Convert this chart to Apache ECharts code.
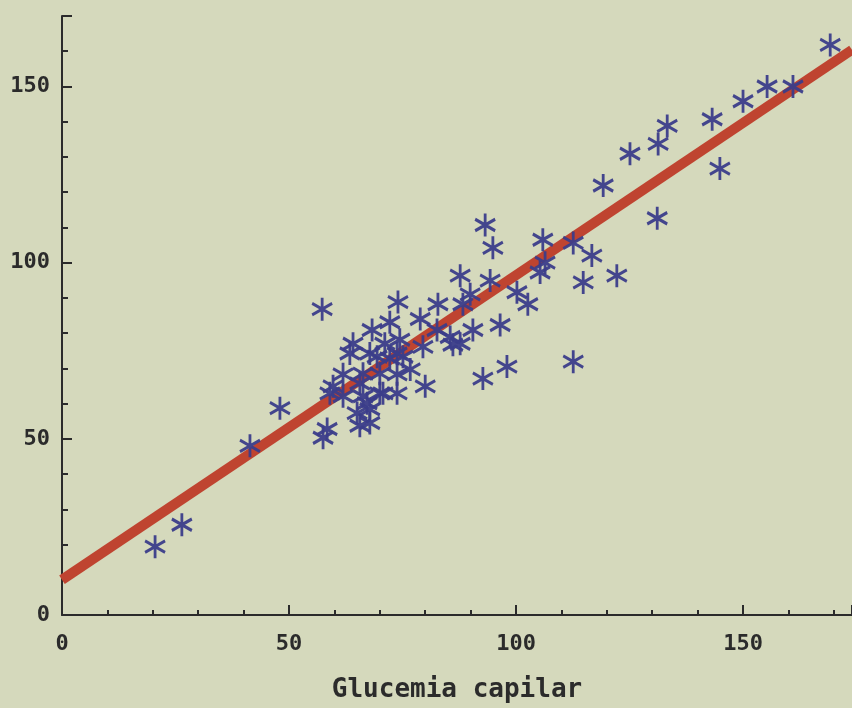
<!DOCTYPE html>
<html lang="es">
<head>
  <meta charset="UTF-8">
  <title>Glucemia capilar</title>
  <script src="https://cdn.jsdelivr.net/npm/echarts@6/dist/echarts.min.js"></script>
  <style>
    html, body { margin: 0; padding: 0; background: #d5d9bc; }
    #chart { width: 852px; height: 708px; }
  </style>
</head>
<body>
  <div id="chart"></div>
  <script>
    // glucemia capilar (x) frente a glucemia venosa (y)
    var capilar = [20.5, 26.4, 41.4, 48.0, 57.3, 57.5, 58.4, 59.0, 59.7, 61.9,
      61.9, 64.1, 65.0, 65.6, 65.6, 67.2, 67.8, 68.3, 70.0, 70.0,
      72.2, 72.2, 73.8, 74.0, 74.4, 76.7, 78.9, 79.5, 80.0, 82.6,
      82.8, 86.1, 87.7, 87.7, 89.9, 90.5, 92.7, 93.2, 94.3, 94.9,
      96.5, 98.0, 100.2, 102.6, 105.3, 105.9, 112.6, 112.6, 114.8, 116.7,
      122.2, 119.2, 125.1, 131.3, 133.3, 131.1, 143.2, 144.9, 150.0, 155.3,
      161.0, 169.2, 63.4, 69.4, 73.8, 85.5, 106.4, 66.3, 67.8, 70.7,
      71.1, 75.1, 66.3, 73.8, 67.8, 88.3]
    var venosa = [19.4, 25.6, 48.0, 58.7, 86.8, 50.3, 52.8, 62.9, 64.9, 68.3,
      62.1, 77.0, 57.3, 53.7, 65.7, 60.1, 74.2, 80.9, 62.9, 68.5,
      83.1, 72.8, 62.9, 88.8, 78.1, 69.7, 84.0, 76.1, 64.9, 80.9,
      88.2, 76.7, 77.0, 96.3, 91.0, 80.9, 67.1, 110.7, 94.9, 104.2,
      82.3, 70.5, 91.6, 88.2, 97.2, 106.5, 105.6, 71.9, 94.4, 102.0,
      96.3, 121.9, 130.9, 133.7, 138.8, 112.6, 140.7, 126.7, 145.8, 150.0,
      150.0, 161.8, 74.2, 73.3, 74.2, 78.9, 100.0, 62.1, 58.4, 62.9,
      77.0, 73.3, 68.5, 68.3, 54.5, 88.2]
    // recta de regresion (extremos)
    var rectaX = [0, 174]
    var rectaY = [10, 160.4]

    var puntos = capilar.map(function (v, i) { return [v, venosa[i]] })
    var recta = rectaX.map(function (v, i) { return [v, rectaY[i]] })

    var asterisco = 'path://M10,0 L10,20 M1.34,5 L18.66,15 M1.34,15 L18.66,5'
    var fuente = 'DejaVu Sans Mono'
    var gris = '#2b2b2b'

    function etiqueta(v) { return v % 50 === 0 ? String(v) : '' }

    var chart = echarts.init(document.getElementById('chart'))
    chart.setOption({
      backgroundColor: '#d5d9bc',
      animation: false,
      grid: { left: 62, right: 0, top: 16, bottom: 87 },
      xAxis: [
        {
          type: 'value', min: 0, max: 174, interval: 10,
          name: 'Glucemia capilar', nameLocation: 'middle', nameGap: 62,
          nameTextStyle: { fontFamily: fuente, fontSize: 26, fontWeight: 'bold', color: gris },
          splitLine: { show: false },
          axisLine: { lineStyle: { color: gris, width: 2 } },
          axisTick: { inside: true, length: 5, lineStyle: { color: gris, width: 2 } },
          axisLabel: { formatter: etiqueta, margin: 18, showMaxLabel: false,
            fontFamily: fuente, fontSize: 22, fontWeight: 'bold', color: gris }
        },
        {
          type: 'value', min: 0, max: 174, interval: 50, position: 'bottom',
          splitLine: { show: false },
          axisLine: { show: false },
          axisTick: { inside: true, length: 10, lineStyle: { color: gris, width: 2 } },
          axisLabel: { show: false }
        }
      ],
      yAxis: [
        {
          type: 'value', min: 0, max: 170, interval: 10,
          splitLine: { show: false },
          axisLine: { show: true, lineStyle: { color: gris, width: 2 } },
          axisTick: { show: true, inside: true, length: 6, lineStyle: { color: gris, width: 2 } },
          axisLabel: { formatter: etiqueta, margin: 12,
            fontFamily: fuente, fontSize: 22, fontWeight: 'bold', color: gris }
        },
        {
          type: 'value', min: 0, max: 170, interval: 50, position: 'left',
          splitLine: { show: false },
          axisLine: { show: false },
          axisTick: { show: true, inside: true, length: 10, lineStyle: { color: gris, width: 2 } },
          axisLabel: { show: false }
        }
      ],
      series: [
        {
          type: 'line',
          data: recta,
          symbol: 'none',
          lineStyle: { color: '#bf4430', width: 10 },
          z: 2
        },
        {
          type: 'scatter',
          data: puntos,
          symbol: asterisco,
          symbolSize: [20, 23],
          itemStyle: { color: 'none', borderColor: '#3b3d8a', borderWidth: 3, opacity: 0.95 },
          emphasis: { disabled: true },
          z: 3
        }
      ]
    })
  </script>
</body>
</html>
